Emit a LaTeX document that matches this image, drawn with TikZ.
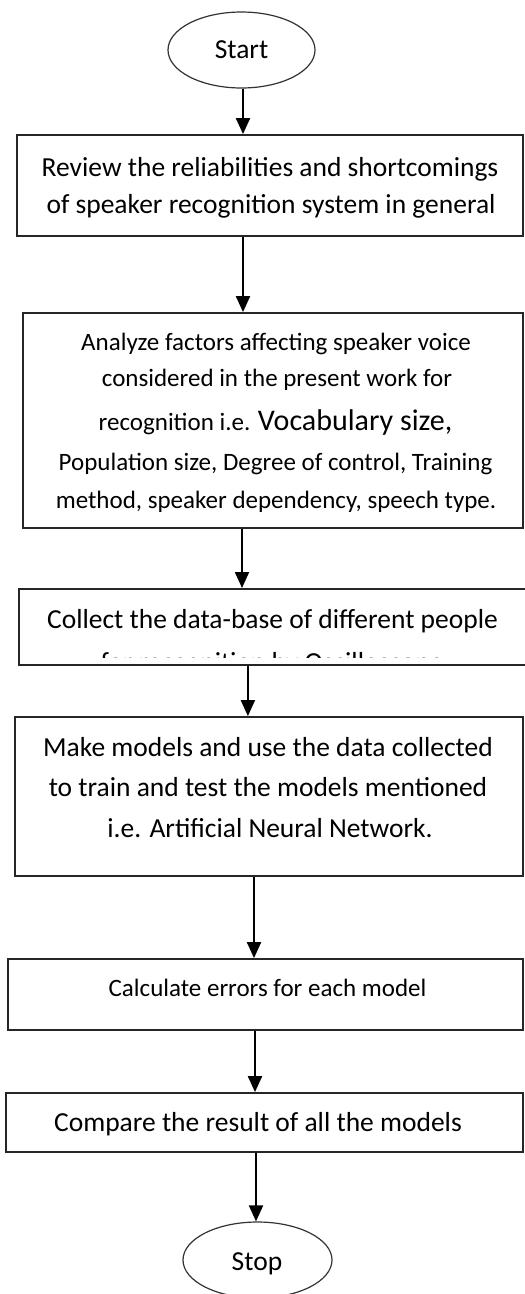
\documentclass[tikz,border=0pt]{standalone}
\usepackage{fontspec}
\setmainfont{Carlito}
\usetikzlibrary{shapes.geometric,arrows.meta}
\newcommand\mainfs{\fontsize{27.5pt}{37pt}\selectfont}
\newcommand\smallfs{\fontsize{25pt}{37pt}\selectfont}
\newcommand\bigfs{\fontsize{30pt}{37pt}\selectfont}
\begin{document}
\begin{tikzpicture}[x=1pt,y=-1pt,
  stepbox/.style={draw=black!85, line width=1.8pt, rectangle, inner sep=0pt},
  term/.style={draw=black!80, line width=1.2pt, ellipse, inner sep=0pt},
  txt/.style={inner sep=0pt, anchor=base, font=\mainfs},
  smalltxt/.style={txt, font=\smallfs},
  arr/.style={line width=2pt, -{Triangle[width=14pt,length=16pt]}}]
\useasboundingbox (0,0) rectangle (525,1294);

% terminals
\node[term, minimum width=147pt, minimum height=76pt] (start) at (241.5,50) {};
\node[txt] (starttxt) at (241.5,58.5) {Start};
\node[term, minimum width=149pt, minimum height=76pt] (stop) at (257.5,1260) {};
\node[txt] (stoptxt) at (257,1270) {Stop};

% process boxes
\node[stepbox, minimum width=506pt, minimum height=101pt] (review) at (270,185.5) {};
\node[txt] (review1) at (270,176.5) {Review the reliabilities and shortcomings};
\node[txt] (review2) at (271,213) {of speaker recognition system in general};

\node[stepbox, minimum width=500pt, minimum height=215pt] (factors) at (273,420.5) {};
\node[smalltxt] (factors1) at (276,350) {Analyze factors affecting speaker voice};
\node[smalltxt] (factors2) at (277,386.5) {considered in the present work for};
\node[smalltxt] (factors3) at (275.5,430) {recognition i.e. {\bigfs Vocabulary size,}};
\node[smalltxt] (factors4) at (275.5,470) {Population size, Degree of control, Training};
\node[smalltxt] (factors5) at (276,508) {method, speaker dependency, speech type.};

\node[stepbox, minimum width=517pt, minimum height=76pt, anchor=north west] (collect) at (18,588) {};
\node[txt] (collect1) at (272.5,628) {Collect the data-base of different people};
\begin{scope}
  % only the tops of the second line show above the lower margin
  \clip (collect.north west) rectangle ([yshift=8.5pt]collect.south east);
  \node[txt] (collect2) at (272,671) {for recognition by Oscilloscope};
\end{scope}

\node[stepbox, minimum width=508pt, minimum height=159pt] (models) at (269,796.5) {};
\node[txt] (models1) at (268,756.5) {Make models and use the data collected};
\node[txt] (models2) at (268,796.5) {to train and test the models mentioned};
\node[txt] (models3) at (270,837) {i.e. Artificial Neural Network.};

\node[stepbox, minimum width=515pt, minimum height=71pt] (errors) at (265.5,994.5) {};
\node[smalltxt] (errors1) at (267.5,996) {Calculate errors for each model};

\node[stepbox, minimum width=517pt, minimum height=59pt] (compare) at (264.5,1122.5) {};
\node[txt] (compare1) at (258,1131.5) {Compare the result of all the models};

% connectors
\coordinate (a1) at ([xshift=1.5pt]start.south);
\coordinate (a2) at ([xshift=-27pt]review.south);
\coordinate (a3) at ([xshift=-31pt]factors.south);
\coordinate (a4) at ([xshift=-29.5pt]collect.south);
\coordinate (a5) at ([xshift=-15pt]models.south);
\coordinate (a6) at ([xshift=-10.5pt]errors.south);
\coordinate (a7) at ([xshift=-8.5pt]compare.south);

\draw[arr] (a1) -- (a1 |- review.north);
\draw[arr] (a2) -- (a2 |- factors.north);
\draw[arr] (a3) -- (a3 |- collect.north);
\draw[arr] (a4) -- (a4 |- models.north);
\draw[arr] (a5) -- (a5 |- errors.north);
\draw[arr] (a6) -- (a6 |- compare.north);
\draw[arr] (a7) -- (a7 |- stop.north);
\end{tikzpicture}
\end{document}
